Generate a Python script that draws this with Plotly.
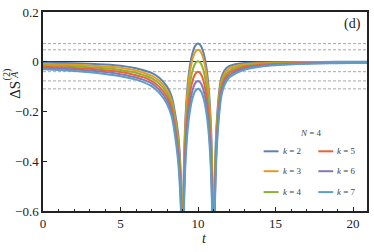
import plotly.graph_objects as go

# ---------------- data ----------------
k_labels = ["2", "3", "4", "5", "6", "7"]
colors = ["#5E81B5", "#E19C24", "#8FB032", "#EB6235", "#8778B3", "#5D9EC7"]

t_left = [0, 1, 2, 3, 4, 5, 6, 6.5, 7, 7.5, 8, 8.3, 8.5, 8.7, 8.8, 8.9, 8.95, 8.98]
t_mid = [9.02, 9.05, 9.1, 9.15, 9.2, 9.3, 9.4, 9.5, 9.6, 9.7, 9.8, 9.9, 10,
         10.1, 10.2, 10.3, 10.4, 10.5, 10.6, 10.7, 10.8, 10.85, 10.9, 10.95, 10.98]
t_right = [11.02, 11.05, 11.1, 11.15, 11.2, 11.3, 11.4, 11.5, 11.7, 12, 12.5, 13, 14, 15, 17, 19, 21]

k2_left = [-0.004, -0.005, -0.006, -0.008, -0.011, -0.016, -0.026, -0.034, -0.045, -0.064, -0.100, -0.140, -0.200, -0.280, -0.350, -0.470, -0.600, -0.800]
k3_left = [-0.009, -0.011, -0.012, -0.015, -0.019, -0.024, -0.035, -0.044, -0.056, -0.076, -0.114, -0.156, -0.218, -0.302, -0.374, -0.496, -0.630, -0.830]
k4_left = [-0.014, -0.016, -0.018, -0.022, -0.026, -0.033, -0.044, -0.054, -0.066, -0.088, -0.128, -0.172, -0.236, -0.324, -0.398, -0.522, -0.660, -0.860]
k5_left = [-0.020, -0.022, -0.025, -0.028, -0.034, -0.041, -0.054, -0.063, -0.077, -0.101, -0.142, -0.188, -0.254, -0.346, -0.422, -0.548, -0.690, -0.890]
k6_left = [-0.025, -0.027, -0.031, -0.035, -0.041, -0.050, -0.063, -0.073, -0.087, -0.113, -0.156, -0.204, -0.272, -0.368, -0.446, -0.574, -0.720, -0.920]
k7_left = [-0.030, -0.033, -0.037, -0.042, -0.049, -0.058, -0.072, -0.083, -0.098, -0.125, -0.170, -0.220, -0.290, -0.390, -0.470, -0.600, -0.750, -0.950]

k2_mid = [-0.831, -0.579, -0.392, -0.286, -0.213, -0.115, -0.052, -0.008, 0.024, 0.047, 0.062, 0.070, 0.073,
          0.070, 0.062, 0.047, 0.024, -0.008, -0.052, -0.115, -0.213, -0.286, -0.392, -0.579, -0.831]
k3_mid = [-0.856, -0.604, -0.417, -0.311, -0.238, -0.140, -0.077, -0.033, -0.001, 0.022, 0.037, 0.045, 0.048,
          0.045, 0.037, 0.022, -0.001, -0.033, -0.077, -0.140, -0.238, -0.311, -0.417, -0.604, -0.856]
k4_mid = [-0.902, -0.650, -0.463, -0.357, -0.284, -0.186, -0.123, -0.079, -0.047, -0.024, -0.009, -0.001, 0.002,
          -0.001, -0.009, -0.024, -0.047, -0.079, -0.123, -0.186, -0.284, -0.357, -0.463, -0.650, -0.902]
k5_mid = [-0.944, -0.692, -0.505, -0.399, -0.326, -0.228, -0.165, -0.121, -0.089, -0.066, -0.051, -0.043, -0.040,
          -0.043, -0.051, -0.066, -0.089, -0.121, -0.165, -0.228, -0.326, -0.399, -0.505, -0.692, -0.944]
k6_mid = [-0.981, -0.729, -0.542, -0.436, -0.363, -0.265, -0.202, -0.158, -0.126, -0.103, -0.088, -0.080, -0.077,
          -0.080, -0.088, -0.103, -0.126, -0.158, -0.202, -0.265, -0.363, -0.436, -0.542, -0.729, -0.981]
k7_mid = [-1.013, -0.761, -0.574, -0.468, -0.395, -0.297, -0.234, -0.190, -0.158, -0.135, -0.120, -0.112, -0.109,
          -0.112, -0.120, -0.135, -0.158, -0.190, -0.234, -0.297, -0.395, -0.468, -0.574, -0.761, -1.013]

k2_right = [-0.800, -0.600, -0.420, -0.320, -0.250, -0.160, -0.100, -0.065, -0.035, -0.018, -0.009, -0.005, -0.003, -0.002, -0.001, -0.0005, -0.0003]
k3_right = [-0.840, -0.630, -0.446, -0.344, -0.272, -0.180, -0.118, -0.080, -0.047, -0.027, -0.016, -0.010, -0.006, -0.004, -0.002, -0.0016, -0.001]
k4_right = [-0.880, -0.660, -0.472, -0.368, -0.294, -0.200, -0.136, -0.095, -0.059, -0.037, -0.023, -0.016, -0.010, -0.007, -0.004, -0.003, -0.0018]
k5_right = [-0.920, -0.690, -0.498, -0.392, -0.316, -0.220, -0.154, -0.110, -0.071, -0.046, -0.031, -0.021, -0.013, -0.009, -0.005, -0.0038, -0.0025]
k6_right = [-0.960, -0.720, -0.524, -0.416, -0.338, -0.240, -0.172, -0.125, -0.083, -0.056, -0.038, -0.027, -0.017, -0.012, -0.007, -0.0049, -0.0033]
k7_right = [-1.000, -0.750, -0.550, -0.440, -0.360, -0.260, -0.190, -0.140, -0.095, -0.065, -0.045, -0.032, -0.020, -0.014, -0.008, -0.006, -0.004]

ref_levels = [0.073, 0.048, -0.040, -0.077, -0.109]

x_ticks = [0, 5, 10, 15, 20]
y_ticks = [0.2, 0, -0.2, -0.4, -0.6]
y_ticktext = ["0.2", "0", "\u22120.2", "\u22120.4", "\u22120.6"]

series_left = [k2_left, k3_left, k4_left, k5_left, k6_left, k7_left]
series_mid = [k2_mid, k3_mid, k4_mid, k5_mid, k6_mid, k7_mid]
series_right = [k2_right, k3_right, k4_right, k5_right, k6_right, k7_right]

# ---------------- layout geometry (pixels) ----------------
W, H = 374, 252
L, R, T, B = 43, 5, 11, 41
PW, PH = W - L - R, H - T - B
FONT = "Liberation Serif, Times New Roman, DejaVu Serif, serif"


def px(xp):
    return (xp - L) / PW


def py(yp):
    return (H - B - yp) / PH


def note(text, xp, yp, size, angle=0, xanchor="center", color="#222"):
    return dict(text=text, xref="paper", yref="paper", x=px(xp), y=py(yp),
                xanchor=xanchor, yanchor="middle", textangle=angle, showarrow=False,
                borderpad=0, font=dict(family=FONT, size=size, color=color))


fig = go.Figure()
t_all = t_left + [None] + t_mid + [None] + t_right
for lab, col, sl, sm, sr in zip(k_labels, colors, series_left, series_mid, series_right):
    fig.add_trace(go.Scatter(
        x=t_all, y=sl + [None] + sm + [None] + sr,
        mode="lines", line=dict(color=col, width=2, shape="spline", smoothing=0.8),
        connectgaps=False, name="k = " + lab, showlegend=False, hoverinfo="skip",
    ))

shapes = []
for lv in ref_levels:
    shapes.append(dict(type="line", xref="paper", x0=0, x1=1, yref="y", y0=lv, y1=lv,
                       line=dict(color="#A8A8A8", width=1, dash="3px,2px"), layer="below"))

annotations = [
    note("\u0394S", 14, 89, 15, angle=-90),
    note("(2)", 6.5, 74, 10, angle=-90),
    note("<i>A</i>", 15, 74, 10, angle=-90),
    note("<i>t</i>", 205, 239, 14),
    note("(d)", 354, 23, 14),
    note("<i>N</i> = 4", 313, 133, 9, color="#444"),
]
rows_y = [151, 171, 192]
cols_x = [265, 320]
for i, (lab, col) in enumerate(zip(k_labels, colors)):
    cx = cols_x[i // 3]
    ry = rows_y[i % 3]
    shapes.append(dict(type="line", xref="paper", yref="paper", x0=px(cx), x1=px(cx + 15),
                       y0=py(ry), y1=py(ry), line=dict(color=col, width=2)))
    annotations.append(note("<i>k</i> = " + lab, cx + 18, ry, 9, xanchor="left", color="#444"))

fig.update_layout(
    width=W, height=H,
    margin=dict(l=L, r=R, t=T, b=B, pad=0),
    paper_bgcolor="white", plot_bgcolor="white",
    font=dict(family=FONT, size=13, color="#222"),
    showlegend=False,
    shapes=shapes, annotations=annotations,
    xaxis=dict(range=[0, 20.9], tickvals=x_ticks, ticktext=[str(v) for v in x_ticks],
               ticks="inside", ticklen=4, tickwidth=1, tickcolor="#222",
               minor=dict(ticks="inside", dtick=1, ticklen=2.5, tickwidth=1, tickcolor="#222"),
               showline=True, linecolor="#222", linewidth=1.5, mirror=True,
               showgrid=False, zeroline=False, tickfont=dict(family=FONT, size=13)),
    yaxis=dict(range=[-0.6, 0.2], tickvals=y_ticks, ticktext=y_ticktext,
               ticks="inside", ticklen=4, tickwidth=1, tickcolor="#222",
               showline=True, linecolor="#222", linewidth=1.5, mirror=True,
               showgrid=False, zeroline=True, zerolinecolor="#333", zerolinewidth=1.3,
               tickfont=dict(family=FONT, size=13)),
)

fig.write_html("out.html", config={"displayModeBar": False},
               post_script="document.body.style.margin='0px';")
